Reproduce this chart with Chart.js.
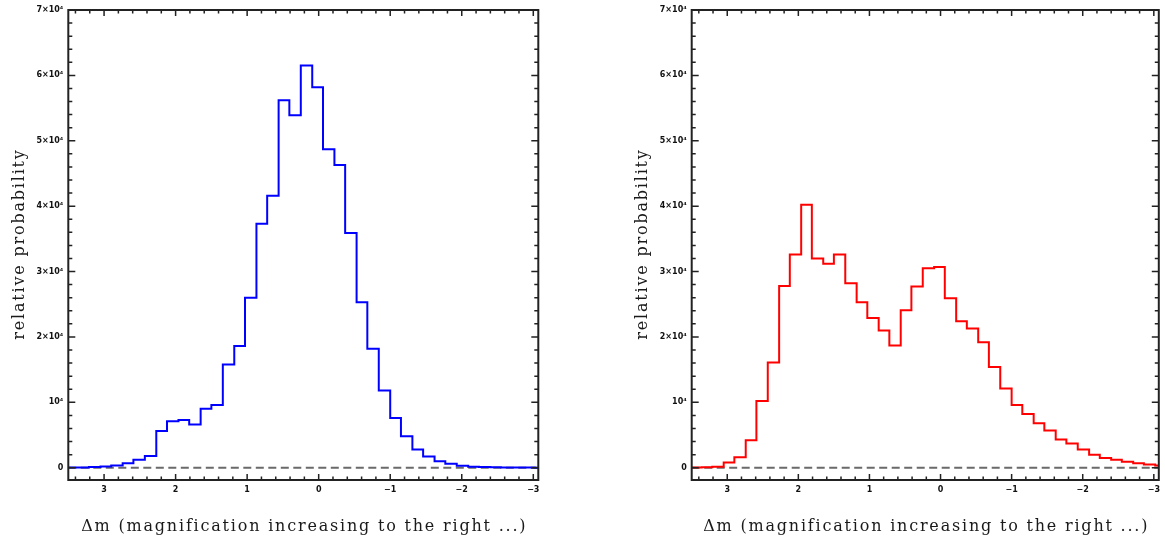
<!DOCTYPE html>
<html lang="en">
<head>
<meta charset="UTF-8">
<title>Δm histograms</title>
<script src="https://cdn.jsdelivr.net/npm/chart.js"></script>
<style>
  body { margin: 0; background: #fff; }
  .panel { position: absolute; top: 0; }
</style>
</head>
<body>
<div class="panel" style="left:0px"><canvas id="leftChart" width="560" height="544"></canvas></div>
<div class="panel" style="left:623px"><canvas id="rightChart" width="542" height="544"></canvas></div>
<script>
// bin edges in Δm, high to low (44 edges -> 43 bins)
const binEdges = [3.52, 3.36, 3.21, 3.05, 2.90, 2.74, 2.59, 2.43, 2.27, 2.12,
                  1.96, 1.81, 1.65, 1.50, 1.34, 1.18, 1.03, 0.87, 0.72, 0.56,
                  0.41, 0.25, 0.09, -0.06, -0.22, -0.37, -0.53, -0.68, -0.84, -1.00,
                  -1.15, -1.31, -1.46, -1.62, -1.77, -1.93, -2.09, -2.24, -2.40, -2.55,
                  -2.71, -2.86, -3.02, -3.18];

// relative probability per bin
const blueCounts = [30, 50, 100, 200, 350, 700, 1200, 1800, 5600, 7100,
                    7300, 6600, 9000, 9600, 15800, 18600, 26000, 37300, 41600, 56200,
                    53900, 61500, 58200, 48700, 46300, 35900, 25300, 18200, 11800, 7600,
                    4800, 2800, 1700, 1000, 600, 300, 150, 100, 60, 40,
                    30, 20, 10];
const redCounts = [30, 60, 150, 800, 1600, 4200, 10200, 16100, 27800, 32600,
                   40200, 32000, 31200, 32600, 28200, 25300, 22900, 21000, 18700, 24100,
                   27700, 30500, 30700, 25900, 22400, 21300, 19200, 15400, 12100, 9600,
                   8200, 6800, 5700, 4300, 3700, 2800, 2000, 1500, 1200, 900,
                   700, 500, 350];

const xTicks = [3, 2, 1, 0, -1, -2, -3];
const xTickLabels = ['3', '2', '1', '0', '\u22121', '\u22122', '\u22123'];
const yTicks = [0, 10000, 20000, 30000, 40000, 50000, 60000, 70000];
const yTickLabels = ['0', '10\u2074', '2\u00d710\u2074', '3\u00d710\u2074', '4\u00d710\u2074',
                     '5\u00d710\u2074', '6\u00d710\u2074', '7\u00d710\u2074'];

const xTitle = '\u0394m (magnification increasing to the right ...)';
const yTitle = 'relative probability';

const X_MIN = -3.07, X_MAX = 3.5;
const Y_MIN = -1880, Y_MAX = 70000;

// histogram outline: one point per left bin edge plus the closing right edge
function stepPoints(counts) {
  const pts = counts.map((c, i) => ({ x: binEdges[i], y: c }));
  pts.push({ x: binEdges[counts.length], y: counts[counts.length - 1] });
  return pts;
}

// box frame with inward major/minor ticks on all four sides, dashed zero line
const framePlugin = {
  id: 'frame',
  beforeDatasetsDraw(chart) {
    const { ctx, chartArea: a, scales: { y } } = chart;
    const y0 = y.getPixelForValue(0);
    ctx.save();
    ctx.strokeStyle = '#6a6a6a';
    ctx.lineWidth = 2;
    ctx.setLineDash([8, 4.5]);
    ctx.beginPath();
    ctx.moveTo(a.left, y0);
    ctx.lineTo(a.right, y0);
    ctx.stroke();
    ctx.restore();
  },
  afterDatasetsDraw(chart) {
    const { ctx, chartArea: a, scales: { x, y } } = chart;
    ctx.save();
    ctx.strokeStyle = '#222';
    ctx.lineWidth = 1.5;
    ctx.beginPath();
    // x ticks every 0.2, major on integers
    for (let k = -16; k <= 18; k++) {
      const v = k / 5;
      if (v < X_MIN || v > X_MAX) continue;
      const px = x.getPixelForValue(v);
      const len = k % 5 === 0 ? 6 : 3.5;
      ctx.moveTo(px, a.bottom); ctx.lineTo(px, a.bottom - len);
      ctx.moveTo(px, a.top); ctx.lineTo(px, a.top + len);
    }
    // y ticks every 2000, major every 10^4
    for (let v = 0; v <= Y_MAX; v += 2000) {
      const py = y.getPixelForValue(v);
      const len = v % 10000 === 0 ? 7 : 4;
      ctx.moveTo(a.left, py); ctx.lineTo(a.left + len, py);
      ctx.moveTo(a.right, py); ctx.lineTo(a.right - len, py);
    }
    ctx.stroke();
    ctx.lineWidth = 2;
    ctx.strokeRect(a.left, a.top, a.right - a.left, a.bottom - a.top);
    ctx.restore();
  },
  // axis titles, letter-spaced
  afterDraw(chart) {
    const { ctx, chartArea: a, scales: { x, y } } = chart;
    ctx.save();
    ctx.fillStyle = '#1a1a1a';
    ctx.font = '16px "DejaVu Serif"';
    ctx.letterSpacing = '1.8px';
    ctx.textAlign = 'center';
    ctx.textBaseline = 'middle';
    ctx.fillText(xTitle, (a.left + a.right) / 2 + 1, x.bottom - 17);
    ctx.translate(y.left + 19.6, (a.top + a.bottom) / 2);
    ctx.rotate(-Math.PI / 2);
    ctx.fillText(yTitle, 1, 0);
    ctx.restore();
  }
};

function makeChart(id, counts, color, yWidth, padRight) {
  return new Chart(document.getElementById(id), {
    type: 'line',
    data: {
      datasets: [{
        data: stepPoints(counts),
        borderColor: color,
        borderWidth: 2,
        stepped: true,
        pointRadius: 0,
        fill: false
      }]
    },
    options: {
      responsive: false,
      animation: false,
      layout: { padding: { left: 0, top: 10, right: padRight, bottom: 0 } },
      plugins: { legend: { display: false }, tooltip: { enabled: false } },
      scales: {
        x: {
          type: 'linear',
          reverse: true,
          min: X_MIN,
          max: X_MAX,
          afterBuildTicks: s => { s.ticks = xTicks.map(v => ({ value: v })); },
          afterFit: s => { s.height = 64; },
          grid: { display: false, drawTicks: false },
          border: { display: false },
          ticks: {
            padding: 5,
            maxRotation: 0,
            color: '#111',
            font: { family: '"DejaVu Sans"', size: 8, weight: 'bold' },
            callback: v => xTickLabels[xTicks.indexOf(v)]
          }
        },
        y: {
          min: Y_MIN,
          max: Y_MAX,
          afterBuildTicks: s => { s.ticks = yTicks.map(v => ({ value: v })); },
          afterFit: s => { s.width = yWidth; },
          grid: { display: false, drawTicks: false },
          border: { display: false },
          ticks: {
            padding: 5,
            color: '#111',
            font: { family: '"DejaVu Sans"', size: 8, weight: 'bold' },
            callback: v => yTickLabels[yTicks.indexOf(v)]
          }
        }
      }
    },
    plugins: [framePlugin]
  });
}

makeChart('leftChart', blueCounts, '#0000ff', 68.3, 21.7);
makeChart('rightChart', redCounts, '#ff0000', 68.7, 4.3);
</script>
</body>
</html>
